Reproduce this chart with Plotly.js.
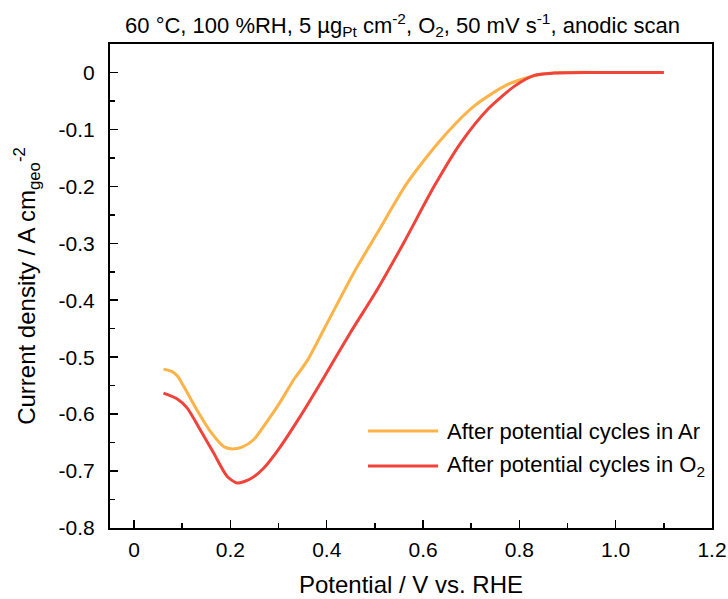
<!DOCTYPE html>
<html>
<head>
<meta charset="utf-8">
<script src="https://cdn.plot.ly/plotly-3.0.1.min.js"></script>
<style>html,body{margin:0;padding:0;background:#fff;}#chart{width:728px;height:599px;}</style>
</head>
<body>
<div id="chart"></div>
<script>
// Data
const arPotential = [0.061,0.078,0.090,0.103,0.130,0.158,0.186,0.200,0.224,0.248,0.276,0.304,0.331,0.359,0.401,0.456,0.505,0.567,0.637,0.706,0.776,0.845,0.900,1.000,1.100];
const arCurrent   = [-0.521,-0.525,-0.533,-0.551,-0.592,-0.630,-0.657,-0.661,-0.658,-0.645,-0.613,-0.578,-0.540,-0.507,-0.440,-0.352,-0.282,-0.194,-0.118,-0.059,-0.021,-0.003,0,0,0];
const o2Potential = [0.061,0.089,0.110,0.137,0.165,0.193,0.214,0.241,0.269,0.304,0.345,0.391,0.449,0.505,0.560,0.623,0.678,0.734,0.790,0.831,0.872,0.950,1.000,1.100];
const o2Current   = [-0.563,-0.573,-0.589,-0.627,-0.668,-0.709,-0.721,-0.714,-0.695,-0.657,-0.604,-0.540,-0.457,-0.381,-0.299,-0.200,-0.124,-0.065,-0.024,-0.005,-0.001,0,0,0];
const seriesNames = ['After potential cycles in Ar', 'After potential cycles in O<sub>2</sub>'];
const xTickVals = [0,0.2,0.4,0.6,0.8,1.0,1.2];
const xTickText = ['0','0.2','0.4','0.6','0.8','1.0','1.2'];
const yTickVals = [0,-0.1,-0.2,-0.3,-0.4,-0.5,-0.6,-0.7,-0.8];
const yTickText = ['0','-0.1','-0.2','-0.3','-0.4','-0.5','-0.6','-0.7','-0.8'];

const colAr = '#FDB347';
const colO2 = '#F0433A';
const font = 'Liberation Sans, Arial, sans-serif';

const traces = [
  {x: arPotential, y: arCurrent, mode: 'lines', name: seriesNames[0],
   line: {color: colAr, width: 3, shape: 'spline', smoothing: 0.7}, showlegend: false},
  {x: o2Potential, y: o2Current, mode: 'lines', name: seriesNames[1],
   line: {color: colO2, width: 3, shape: 'spline', smoothing: 0.7}, showlegend: false}
];

const legendY = [0.2004, 0.128];
const shapes = [colAr, colO2].map((c, i) => ({
  type: 'line', xref: 'paper', yref: 'paper', x0: 0.4286, x1: 0.545, y0: legendY[i], y1: legendY[i],
  line: {color: c, width: 3}
}));
const annotations = seriesNames.map((t, i) => ({
  text: t, xref: 'paper', yref: 'paper', x: 0.5565, y: legendY[i], xanchor: 'left', yanchor: 'middle',
  showarrow: false, font: {family: font, size: 22, color: '#000'}
}));

const layout = {
  width: 728, height: 599,
  margin: {l: 110, r: 16, t: 44, b: 71},
  paper_bgcolor: '#fff', plot_bgcolor: '#fff',
  font: {family: font, color: '#000', size: 21},
  title: {text: '60 °C, 100 %RH, 5 µg<sub>Pt</sub> cm<sup>-2</sup>, O<sub>2</sub>, 50 mV s<sup>-1</sup>, anodic scan',
          font: {family: font, size: 22, color: '#000'}, x: 0.553, xanchor: 'center', y: 0.958, yanchor: 'middle'},
  xaxis: {
    range: [-0.05, 1.2], showgrid: false, zeroline: false,
    showline: true, linecolor: '#000', linewidth: 2, mirror: true,
    ticks: 'inside', ticklen: 8, tickwidth: 1.5, tickcolor: '#000',
    tickmode: 'array', tickvals: xTickVals, ticktext: xTickText,
    tickfont: {family: font, size: 21, color: '#000'}, ticklabelstandoff: 2,
    minor: {ticks: 'inside', dtick: 0.1, tick0: 0, ticklen: 5, tickwidth: 1.5, tickcolor: '#000', showgrid: false},
    title: {text: 'Potential / V vs. RHE', font: {family: font, size: 24, color: '#000'}, standoff: 16}
  },
  yaxis: {
    range: [-0.8, 0.05], showgrid: false, zeroline: false,
    showline: true, linecolor: '#000', linewidth: 2, mirror: true,
    ticks: 'inside', ticklen: 8, tickwidth: 1.5, tickcolor: '#000',
    tickmode: 'array', tickvals: yTickVals, ticktext: yTickText,
    tickfont: {family: font, size: 21, color: '#000'}, ticklabelstandoff: 9,
    minor: {ticks: 'inside', dtick: 0.05, tick0: 0, ticklen: 5, tickwidth: 1.5, tickcolor: '#000', showgrid: false},
    title: {text: 'Current density / A cm<sub>geo</sub><sup>-2</sup>', font: {family: font, size: 24, color: '#000'}, standoff: 16}
  },
  shapes: shapes,
  annotations: annotations,
  showlegend: false
};

Plotly.newPlot('chart', traces, layout, {displayModeBar: false, staticPlot: true});
</script>
</body>
</html>
